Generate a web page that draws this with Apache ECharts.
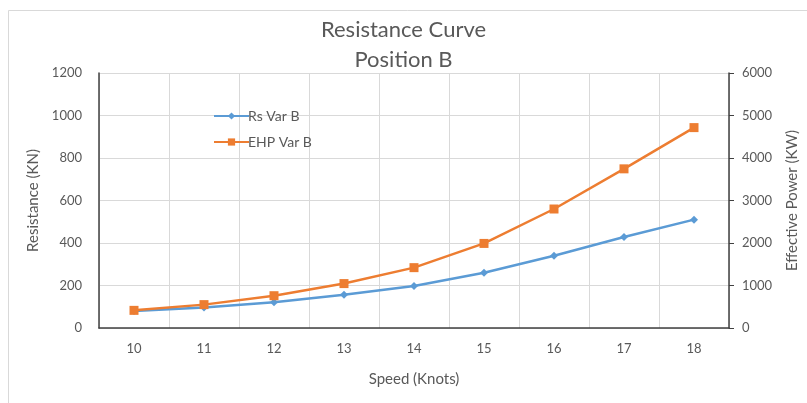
<!DOCTYPE html>
<html>
<head>
<meta charset="utf-8">
<style>html,body{margin:0;padding:0;background:#fff;}#c{width:807px;height:403px;}</style>
<script src="https://cdn.jsdelivr.net/npm/echarts@6/dist/echarts.min.js"></script>
</head>
<body>
<div id="c"></div>
<script>
const speeds = ['10','11','12','13','14','15','16','17','18'];
const rsVarB = [80, 97, 121, 157, 198, 260, 340, 428, 510];
const ehpVarB = [415, 550, 760, 1045, 1420, 1990, 2800, 3745, 4715];
const leftTicks = [0, 200, 400, 600, 800, 1000, 1200];
const rightTicks = [0, 1000, 2000, 3000, 4000, 5000, 6000];

const chart = echarts.init(document.getElementById('c'), null, {renderer: 'canvas'});
const font = 'Lato, "Open Sans", sans-serif';
const gray = '#595959';
chart.setOption({
  animation: false,
  backgroundColor: '#fff',
  textStyle: {fontFamily: font},
  title: {
    text: 'Resistance Curve\nPosition B',
    left: 'center',
    top: 10,
    textStyle: {fontFamily: font, fontSize: 22, fontWeight: 'normal', color: gray, lineHeight: 30}
  },
  graphic: [
    {type: 'line', shape: {x1: 8.5, y1: 10.5, x2: 807, y2: 10.5}, style: {stroke: '#d9d9d9', lineWidth: 1}},
    {type: 'line', shape: {x1: 8.5, y1: 10.5, x2: 8.5, y2: 403}, style: {stroke: '#d9d9d9', lineWidth: 1}}
  ],
  legend: {
    orient: 'vertical',
    left: 208,
    top: 104,
    itemWidth: 35,
    itemHeight: 9,
    itemGap: 12,
    textStyle: {fontFamily: font, fontSize: 14, color: gray, padding: [0, 0, 0, -6]},
    data: ['Rs Var B', 'EHP Var B']
  },
  grid: {left: 99, right: 78, top: 73, bottom: 75, containLabel: false, outerBoundsMode: 'none'},
  xAxis: {
    type: 'category',
    data: speeds,
    boundaryGap: true,
    name: 'Speed (Knots)',
    nameLocation: 'middle',
    nameGap: 44,
    nameTextStyle: {fontFamily: font, fontSize: 15, color: gray},
    axisLine: {show: true, lineStyle: {color: '#404040', width: 1.5}},
    axisTick: {show: false},
    axisLabel: {color: gray, fontSize: 13, margin: 14, fontFamily: font},
    splitLine: {show: true, lineStyle: {color: '#d9d9d9'}}
  },
  yAxis: [
    {
      type: 'value', min: 0, max: 1200, interval: 200,
      name: 'Resistance (KN)', nameLocation: 'middle', nameGap: 52, nameRotate: 90,
      nameTextStyle: {fontFamily: font, fontSize: 15, color: gray},
      axisLine: {show: true, lineStyle: {color: '#404040', width: 1.5}},
      axisTick: {show: false},
      axisLabel: {color: gray, fontSize: 13, margin: 17, fontFamily: font, formatter: v => String(v)},
      splitLine: {show: true, lineStyle: {color: '#d9d9d9'}}
    },
    {
      type: 'value', min: 0, max: 6000, interval: 1000, position: 'right',
      name: 'Effective Power (KW)', nameLocation: 'middle', nameGap: 56, nameRotate: 90,
      nameTextStyle: {fontFamily: font, fontSize: 15, color: gray},
      axisLine: {show: true, lineStyle: {color: '#404040', width: 1.5}},
      axisTick: {show: true, length: 5, inside: false, lineStyle: {color: '#404040'}},
      axisLabel: {color: gray, fontSize: 13, margin: 13, fontFamily: font, formatter: v => String(v)},
      splitLine: {show: false}
    }
  ],
  series: [
    {
      name: 'Rs Var B', type: 'line', yAxisIndex: 0, data: rsVarB,
      symbol: 'diamond', symbolSize: 8,
      itemStyle: {color: '#5B9BD5'},
      lineStyle: {color: '#5B9BD5', width: 2.5},
      z: 3
    },
    {
      name: 'EHP Var B', type: 'line', yAxisIndex: 1, data: ehpVarB,
      symbol: 'rect', symbolSize: 9,
      itemStyle: {color: '#ED7D31'},
      lineStyle: {color: '#ED7D31', width: 2.5},
      z: 4
    }
  ]
});
</script>
</body>
</html>
